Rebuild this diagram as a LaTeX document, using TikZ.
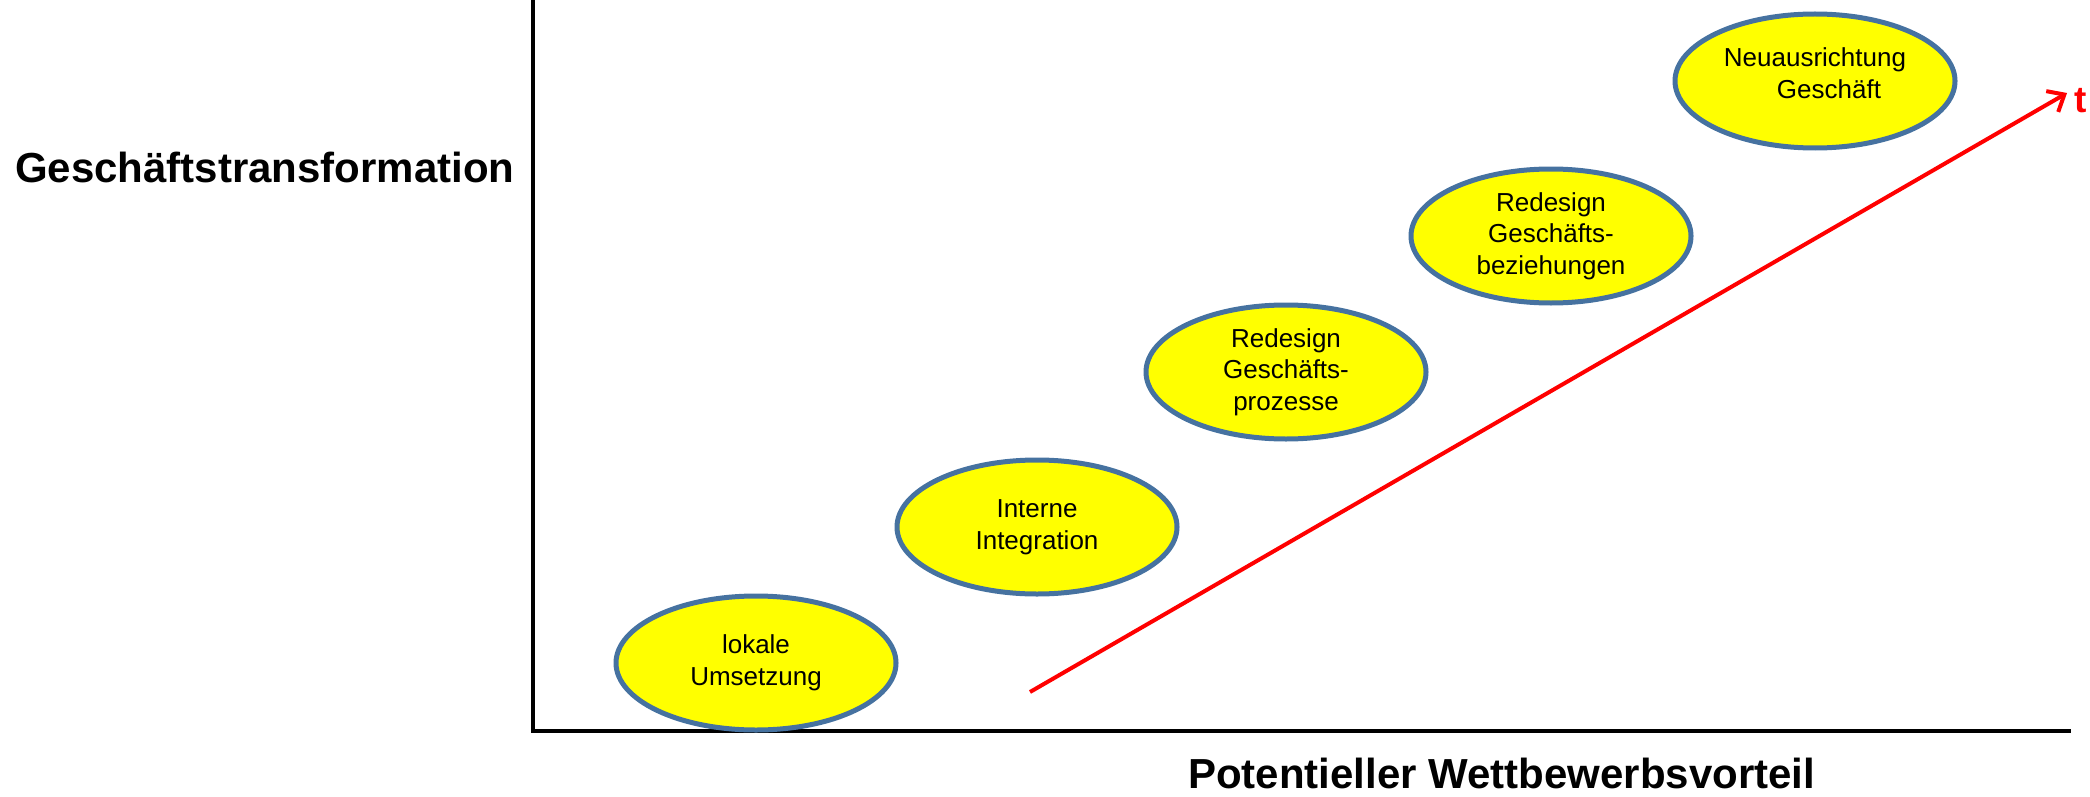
\documentclass[tikz,border=0pt]{standalone}
\usepackage{fontspec}
\setmainfont{Liberation Sans}
\usetikzlibrary{shapes.geometric,arrows.meta}
\definecolor{cYellow}{RGB}{255,255,0}
\definecolor{cBorder}{RGB}{70,114,160}
\definecolor{cRed}{RGB}{255,0,0}

\begin{document}
\begin{tikzpicture}[x=1pt,y=-1pt,
    stage/.style={ellipse, draw=cBorder, line width=5pt, fill=cYellow,
      minimum width=280pt, minimum height=134pt, inner sep=0pt, align=center,
      font=\fontsize{26}{31.5}\selectfont},
    axislabel/.style={anchor=base west, inner sep=0pt,
      font=\bfseries\fontsize{42}{50}\selectfont},
    trend/.style={cRed, line width=4pt, -{Straight Barb[length=14pt,width=24pt]}}]
        \useasboundingbox (0,0) rectangle (2090,797);

        \coordinate (ytop) at (533,0);
        \coordinate (origin) at (533,731);
        \coordinate (xend) at (2071,731);
        \draw[line width=4pt] (ytop) -- (origin) -- (xend);

        \node[axislabel] (ylabel) at (15,182) {Geschäftstransformation};
        \node[axislabel] (xlabel) at (1188,788) {Potentieller Wettbewerbsvorteil};

        \node[stage] (lokal) at (756,663) {lokale\\Umsetzung};
        \node[stage] (intern) at (1037,527) {Interne\\Integration};
        \node[stage] (prozess) at (1286,372) {Redesign\\Geschäfts-\\prozesse};
        \node[stage] (bezieh) at (1551,236) {Redesign\\Geschäfts-\\beziehungen};
        \node[stage, text depth=16pt] (neu) at (1815,81) {Neuausrichtung\\\hspace*{28pt}Geschäft};

        \coordinate (tstart) at (1030,692);
        \coordinate (tend) at (2067,93);
        \draw[trend] (tstart) -- (tend);
        \node[anchor=base west, inner sep=0pt, text=cRed,
          font=\bfseries\fontsize{37}{42}\selectfont] (tlabel) at (2074,113) {t};
    \end{tikzpicture}
\end{document}
